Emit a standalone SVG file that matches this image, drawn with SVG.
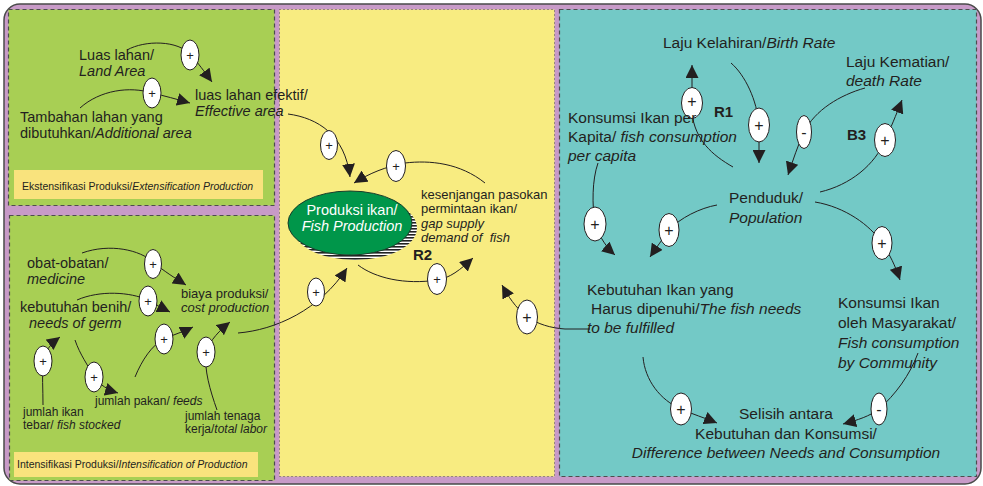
<svg xmlns="http://www.w3.org/2000/svg" width="983" height="486" viewBox="0 0 983 486">
<defs>
<style>
text{font-family:"Liberation Sans",Arial,sans-serif;fill:#231f20}
.l{font-size:14.5px}
.s{font-size:12px}
.m{font-size:13px}
.t{font-size:15.5px}
.cap{font-size:10.5px}
.i{font-style:italic}
.b{font-weight:bold;font-size:15px}
.c{fill:none;stroke:#231f20;stroke-width:1;marker-end:url(#ah)}
.pol{fill:#fff;stroke:#231f20;stroke-width:1}
.ps{font-size:13px;text-anchor:middle}
.pt{font-size:16px;text-anchor:middle}
.panel{stroke:#4d4d4d;stroke-width:1.2;stroke-dasharray:4 3}
</style>
<marker id="ah" markerUnits="userSpaceOnUse" markerWidth="14" markerHeight="13" refX="13" refY="6.5" orient="auto">
<path d="M0,0 L13,6.5 L0,13 z" fill="#231f20"/>
</marker>
<pattern id="hatch" width="3" height="3" patternUnits="userSpaceOnUse">
<rect width="3" height="3" fill="#fff"/>
<rect width="3" height="1.6" fill="#222"/>
</pattern>
</defs>

<g id="frame">
<rect x="4" y="4" width="977" height="480" rx="16" fill="#c89ac8" stroke="#4a4a4a" stroke-width="1.5"/>
<rect class="panel" x="8.5" y="9.5" width="266" height="196" fill="#a8cf54"/>
<rect class="panel" x="9.5" y="215.5" width="265" height="265" fill="#a8cf54"/>
<rect x="279.5" y="9.5" width="275" height="467" fill="#f8ec81" stroke="#4d4d4d" stroke-width="1" stroke-dasharray="1 3"/>
<rect class="panel" x="559.5" y="9.5" width="417" height="467" fill="#73c9c6"/>
<rect x="14" y="170" width="249" height="29" fill="#f9e37d"/>
<rect x="14" y="452" width="244" height="25" fill="#f9e37d"/>
<text class="cap" x="22" y="190">Ekstensifikasi Produksi/<tspan class="i">Extensification Production</tspan></text>
<text class="cap" x="17" y="468">Intensifikasi Produksi/<tspan class="i">Intensification of Production</tspan></text>
</g>

<g id="connectors">
<path class="c" d="M127,50 C145,40 178,40 191,55 C198,63 204,71 212,82"/>
<path class="c" d="M80,108 C100,90 130,86 152,93 C165,96 176,99 190,103"/>
<path class="c" d="M288,114 C318,118 345,135 350,177"/>
<path class="c" d="M485,183 C460,163 430,160 405,163 C385,167 370,173 354,183"/>
<path class="c" d="M358,265 C375,278 405,285 437,280 C450,278 460,270 473,258"/>
<path class="c" d="M238,333 C275,330 320,310 347,268"/>
<path class="c" d="M590,329 L565,329 C550,328 538,324 527,317 C515,307 508,296 502,285"/>
<path class="c" d="M82,253 C110,243 140,250 153,262 C165,272 175,278 186,285"/>
<path class="c" d="M77,300 C100,290 130,292 148,300 C155,304 162,308 170,312"/>
<path class="c" d="M43,405 C43,390 42,375 43,361 C45,350 52,343 60,337"/>
<path class="c" d="M75,340 C80,355 88,365 94,377 C100,385 108,390 118,393"/>
<path class="c" d="M135,377 C142,360 152,345 164,339 C175,334 183,332 193,327"/>
<path class="c" d="M217,410 C210,390 204,370 206,352 C210,340 220,330 230,322"/>
<path class="c" d="M733,167 C712,155 695,140 692,113 L692,65"/>
<path class="c" d="M731,63 C745,75 757,100 759,125 L759,163"/>
<path class="c" d="M865,88 C840,95 815,110 804,132 C798,145 793,160 788,175"/>
<path class="c" d="M820,192 C850,185 875,165 885,140 C890,130 896,115 902,100"/>
<path class="c" d="M598,163 C592,180 592,205 595,224 C600,238 607,248 615,255"/>
<path class="c" d="M717,205 C700,208 680,218 669,230 C662,240 656,248 650,257"/>
<path class="c" d="M815,202 C845,207 870,225 882,243 C890,255 895,265 900,280"/>
<path class="c" d="M643,357 C645,380 660,400 681,409 C692,414 705,418 717,423"/>
<path class="c" d="M918,353 C910,375 895,395 879,409 C870,416 858,420 843,424"/>

<ellipse class="pol" cx="190" cy="55" rx="9" ry="15"/><text class="ps" x="190" y="60">+</text>
<ellipse class="pol" cx="152" cy="93" rx="9" ry="15"/><text class="ps" x="152" y="98">+</text>
<ellipse class="pol" cx="329" cy="145" rx="8.5" ry="14.5"/><text class="ps" x="329" y="150">+</text>
<ellipse class="pol" cx="396" cy="166" rx="9.5" ry="15.5"/><text class="ps" x="396" y="171">+</text>
<ellipse class="pol" cx="437" cy="279" rx="9.5" ry="15.5"/><text class="ps" x="437" y="284">+</text>
<ellipse class="pol" cx="316" cy="292" rx="8.5" ry="14"/><text class="ps" x="316" y="297">+</text>
<ellipse class="pol" cx="527" cy="317" rx="10.5" ry="17"/><text class="pt" x="527" y="323">+</text>
<ellipse class="pol" cx="153" cy="264" rx="8.5" ry="14.5"/><text class="ps" x="153" y="269">+</text>
<ellipse class="pol" cx="148" cy="301" rx="9" ry="15"/><text class="ps" x="148" y="306">+</text>
<ellipse class="pol" cx="43" cy="361" rx="9" ry="15"/><text class="ps" x="43" y="366">+</text>
<ellipse class="pol" cx="94" cy="377" rx="9" ry="15"/><text class="ps" x="94" y="382">+</text>
<ellipse class="pol" cx="164" cy="339" rx="9" ry="15"/><text class="ps" x="164" y="344">+</text>
<ellipse class="pol" cx="206" cy="352" rx="9" ry="15"/><text class="ps" x="206" y="357">+</text>
<ellipse class="pol" cx="692" cy="103" rx="10.5" ry="15.5"/><text class="pt" x="692" y="107">+</text>
<ellipse class="pol" cx="759" cy="125" rx="10.5" ry="17"/><text class="pt" x="759" y="131">+</text>
<ellipse class="pol" cx="804" cy="132" rx="7.5" ry="16.5"/><text class="pt" x="804" y="138">-</text>
<ellipse class="pol" cx="885" cy="140" rx="10.5" ry="16.5"/><text class="pt" x="885" y="146">+</text>
<ellipse class="pol" cx="595" cy="224" rx="11" ry="17"/><text class="pt" x="595" y="230">+</text>
<ellipse class="pol" cx="669" cy="230" rx="10" ry="16.5"/><text class="pt" x="669" y="236">+</text>
<ellipse class="pol" cx="882" cy="243" rx="10" ry="16.5"/><text class="pt" x="882" y="249">+</text>
<ellipse class="pol" cx="681" cy="409" rx="10.5" ry="16"/><text class="pt" x="681" y="415">+</text>
<ellipse class="pol" cx="879" cy="409" rx="8" ry="16"/><text class="pt" x="879" y="415">-</text>
</g>

<g id="loop-labels">
<text class="b" x="413" y="260">R2</text>
<text class="b" x="714" y="117">R1</text>
<text class="b" x="847" y="140">B3</text>
</g>

<g id="n-luas-lahan"><text class="l" x="79" y="60">Luas lahan/</text><text class="l i" x="79" y="76">Land Area</text></g>
<g id="n-efektif"><text class="l" x="195" y="100">luas lahan efektif/</text><text class="l i" x="195" y="116">Effective area</text></g>
<g id="n-tambahan"><text class="l" x="20" y="122">Tambahan lahan yang</text><text class="l" x="20" y="138">dibutuhkan/<tspan class="i">Additional area</tspan></text></g>

<g id="n-produksi">
<ellipse cx="355" cy="228" rx="62" ry="32" fill="url(#hatch)"/>
<ellipse cx="350" cy="223" rx="62" ry="32" fill="#00964a" stroke="#1a3d2a" stroke-width="1"/>
<text class="l" x="352" y="215" text-anchor="middle" style="fill:#fff">Produksi ikan/</text>
<text class="l i" x="352" y="231" text-anchor="middle" style="fill:#fff">Fish Production</text>
</g>
<g id="n-kesenjangan"><text class="m" x="421" y="199">kesenjangan pasokan</text><text class="m" x="421" y="213">permintaan ikan/</text><text class="m i" x="421" y="228">gap supply</text><text class="m i" x="421" y="242" xml:space="preserve">demand of  fish</text></g>

<g id="n-obat"><text class="l" x="27" y="268">obat-obatan/</text><text class="l i" x="27" y="284">medicine</text></g>
<g id="n-benih"><text class="l" x="20" y="312">kebutuhan benih/</text><text class="l i" x="29" y="328">needs of germ</text></g>
<g id="n-biaya"><text class="m" x="181" y="298">biaya produksi/</text><text class="m i" x="181" y="312">cost production</text></g>
<g id="n-ikan-tebar"><text class="s" x="23" y="416">jumlah ikan</text><text class="s" x="23" y="429">tebar/ <tspan class="i">fish stocked</tspan></text></g>
<g id="n-pakan"><text class="s" x="95" y="405">jumlah pakan/ <tspan class="i">feeds</tspan></text></g>
<g id="n-tenaga"><text class="s" x="185" y="420">jumlah tenaga</text><text class="s" x="185" y="433">kerja/<tspan class="i">total labor</tspan></text></g>

<g id="n-kelahiran"><text class="t" x="663" y="48">Laju Kelahiran/<tspan class="i">Birth Rate</tspan></text></g>
<g id="n-kematian"><text class="t" x="846" y="67">Laju Kematian/</text><text class="t i" x="846" y="86">death Rate</text></g>
<g id="n-perkapita"><text class="t" x="568" y="123">Konsumsi Ikan per</text><text class="t" x="568" y="142">Kapita/ <tspan class="i">fish consumption</tspan></text><text class="t i" x="568" y="161">per capita</text></g>
<g id="n-penduduk"><text class="t" x="729" y="203">Penduduk/</text><text class="t i" x="729" y="223">Population</text></g>
<g id="n-kebutuhan"><text class="t" x="587" y="295">Kebutuhan Ikan yang</text><text class="t" x="591" y="314">Harus dipenuhi/<tspan class="i">The fish needs</tspan></text><text class="t i" x="587" y="333">to be fulfilled</text></g>
<g id="n-konsumsi-masy"><text class="t" x="838" y="308">Konsumsi Ikan</text><text class="t" x="838" y="328">oleh Masyarakat/</text><text class="t i" x="838" y="348">Fish consumption</text><text class="t i" x="838" y="368">by Community</text></g>
<g id="n-selisih"><text class="t" x="786" y="419" text-anchor="middle">Selisih antara</text><text class="t" x="786" y="439" text-anchor="middle">Kebutuhan dan Konsumsi/</text><text class="t i" x="786" y="458" text-anchor="middle">Difference between Needs and Consumption</text></g>
</svg>
